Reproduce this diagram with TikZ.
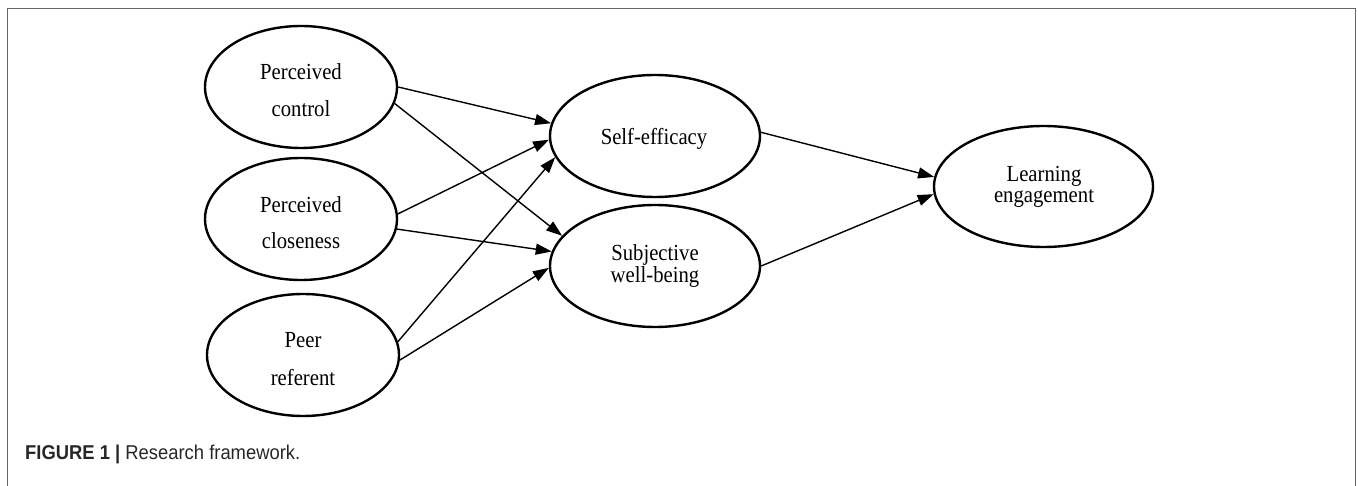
\documentclass[tikz,border=0pt]{standalone}
\usepackage{fontspec}
\setmainfont{Liberation Serif}[FakeStretch=0.9]
\newfontfamily\capfont{Liberation Sans}[FakeStretch=0.92]
\usetikzlibrary{shapes.geometric,arrows.meta}
\begin{document}
\begin{tikzpicture}[x=1pt,y=-1pt,
  ell/.style={ellipse,draw,line width=2.4pt,inner sep=0pt},
  smallell/.style={ell,minimum width=192pt,minimum height=122pt},
  midell/.style={ell,minimum width=210pt,minimum height=122pt},
  tight/.style={align=center,font=\fontsize{23}{19.5}\selectfont},
  lbl/.style={font=\fontsize{23}{23}\selectfont,inner sep=0pt,anchor=base},
  conn/.style={line width=1.4pt,-{Triangle[length=16pt,width=11pt]}},
  frame/.style={line width=1.6pt,black!60},
  captxt/.style={font=\capfont\fontsize{20}{20}\selectfont,inner sep=0pt,anchor=base west,text=black!85}
]
\useasboundingbox (0,0) rectangle (1358,486);
\draw[frame] (7.5,490) -- (7.5,8.5) -- (1355.5,8.5) -- (1355.5,490);

% ellipses
\node[smallell] (pc)  at (301,87)  {};
\node[smallell] (pcl) at (301,219) {};
\node[smallell] (pr)  at (303,355) {};
\node[midell]   (se)  at (655,136) {};
\node[midell,tight] (sw)  at (655,266) {Subjective\\well-being};
\node[ell,minimum width=219pt,minimum height=121pt] (le) at (1043.5,186.5) {};

% labels
\node[lbl] (pct1)  at (301,80)    {Perceived};
\node[lbl] (pct2)  at (301,116.7) {control};
\node[lbl] (pclt1) at (301,213)   {Perceived};
\node[lbl] (pclt2) at (301,249)   {closeness};
\node[lbl] (prt1)  at (303,348)   {Peer};
\node[lbl] (prt2)  at (303,385)   {referent};
\node[lbl] (set)   at (654,145)   {Self-efficacy};
\node[lbl] (let1)  at (1044,182)  {Learning};
\node[lbl] (let2)  at (1044,203)  {engagement};

% connectors
\draw[conn] (pc.east) -- (se.173);
\draw[conn] (pc.-10)  -- (sw.162);
\draw[conn] (pcl.3)   -- (se.182);
\draw[conn] (pcl.-6)  -- (sw.172);
\draw[conn] (pr.8)    -- (se.192);
\draw[conn] (pr.-3)   -- (sw.181);
\draw[conn] (se.2)    -- (le.175);
\draw[conn] (sw.0)    -- (le.184);

% caption
\node[captxt] (cap) at (25,459) {\textbf{FIGURE 1 |} Research framework.};
\end{tikzpicture}
\end{document}
